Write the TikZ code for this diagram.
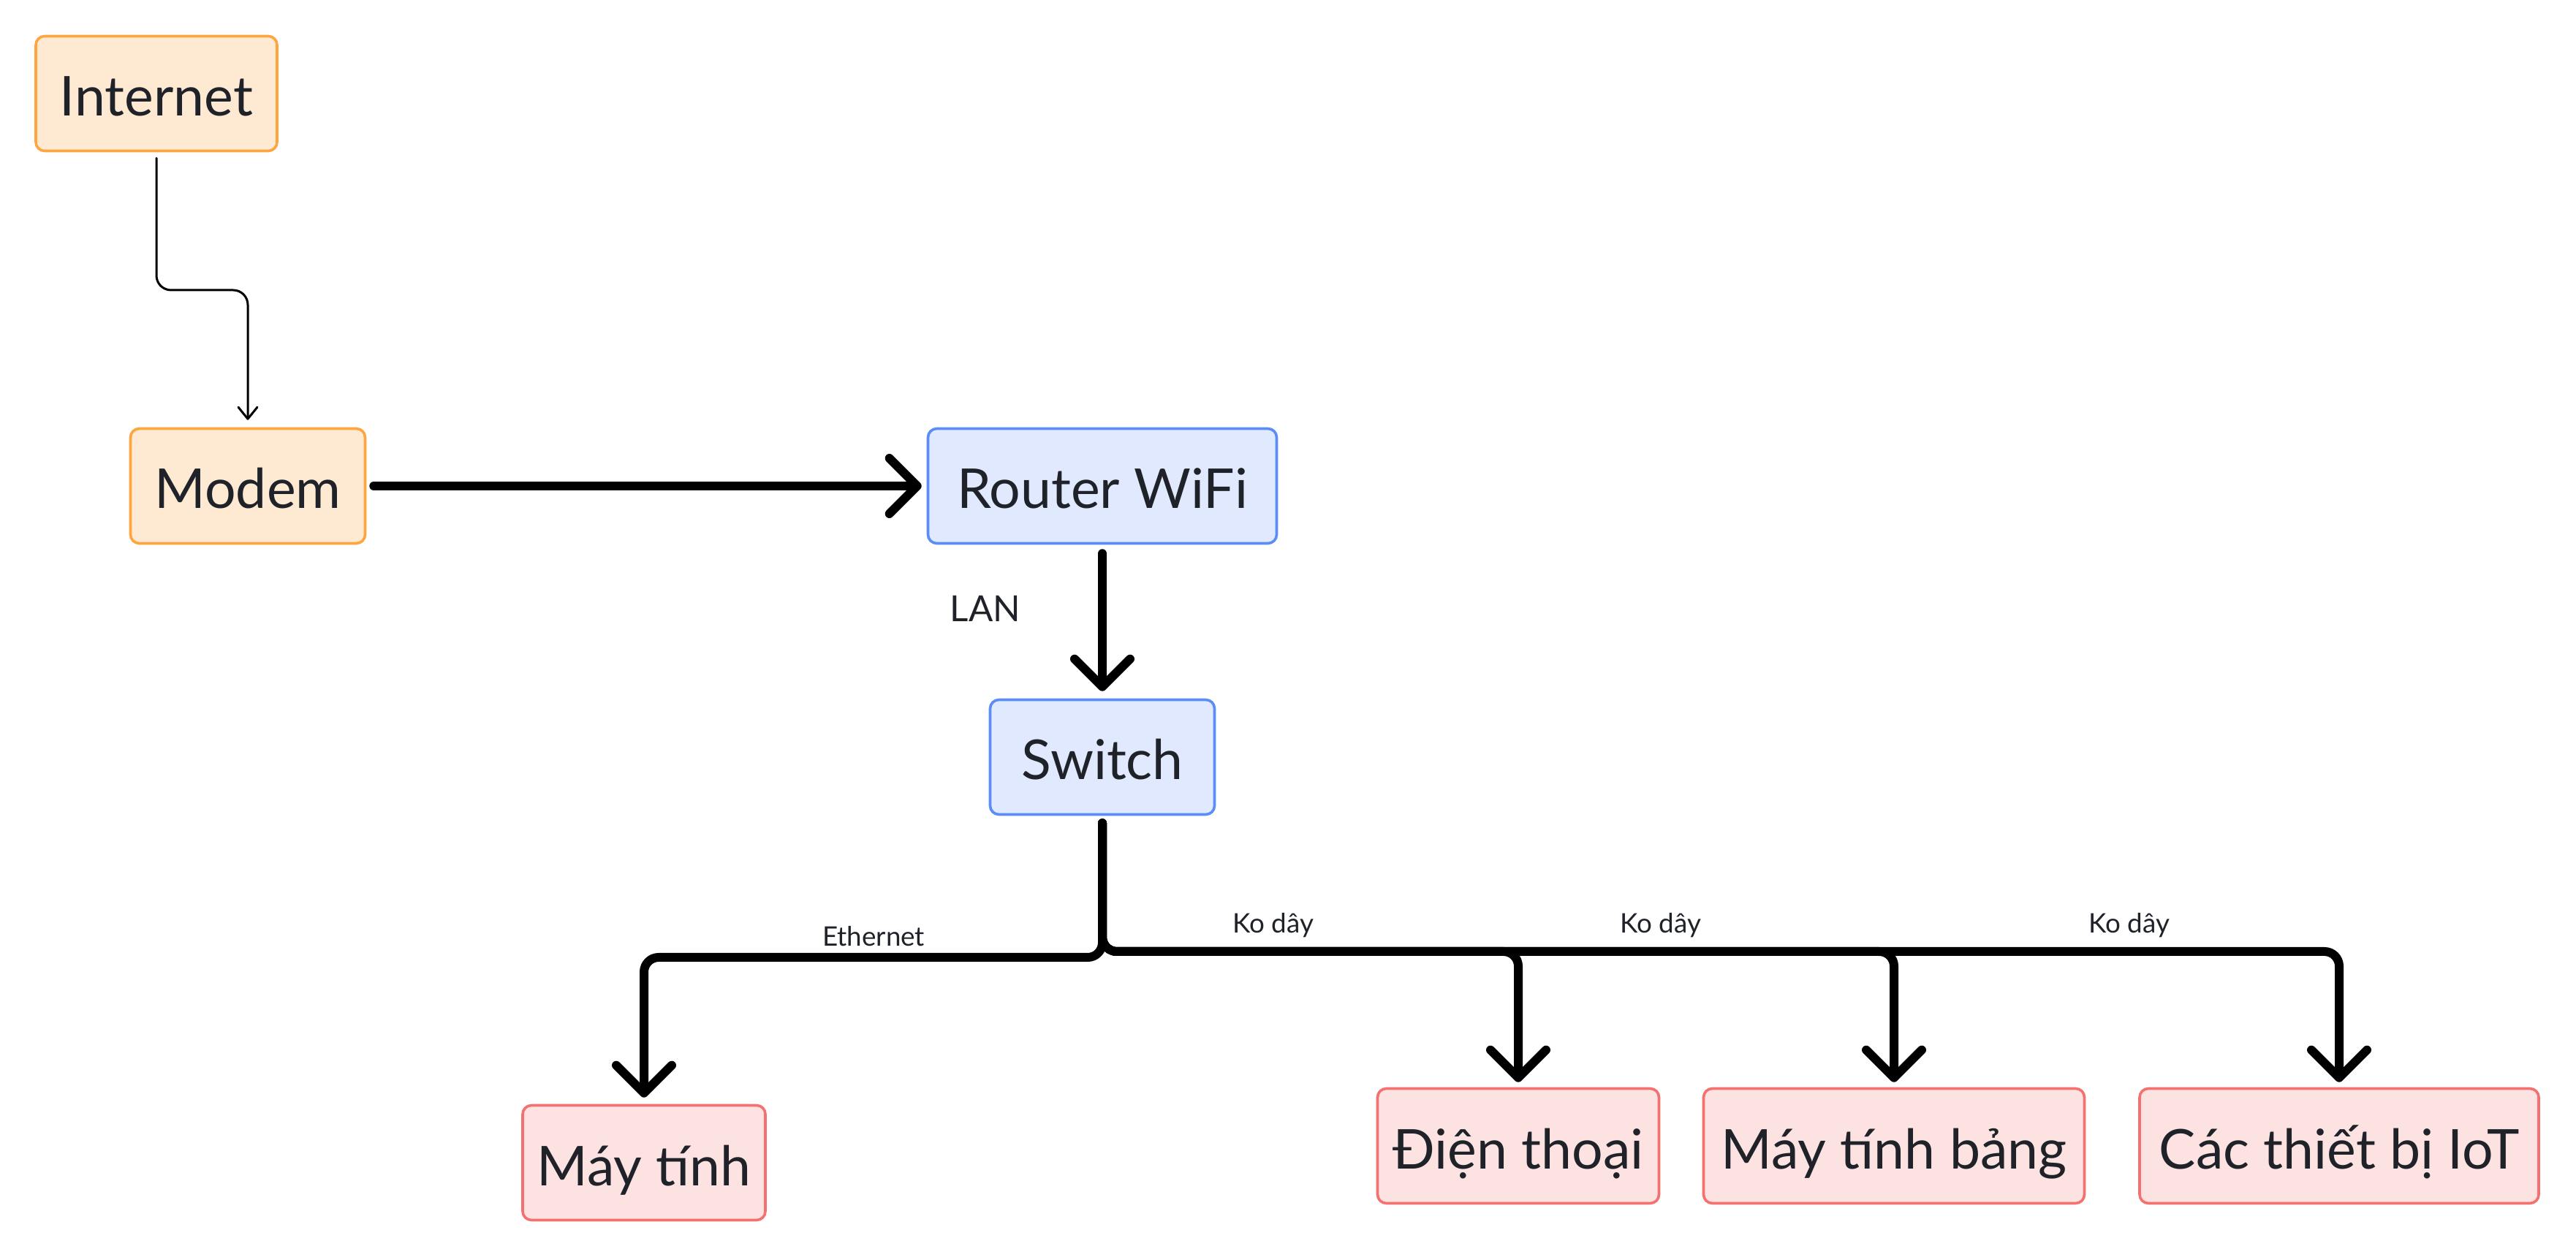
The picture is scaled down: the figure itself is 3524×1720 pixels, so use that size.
\documentclass[tikz,border=0pt]{standalone}
\usepackage{fontspec}
\setmainfont{Lato}
\usetikzlibrary{arrows.meta}
\definecolor{orfill}{HTML}{FEEAD2}
\definecolor{orline}{HTML}{FFA540}
\definecolor{blfill}{HTML}{E1E9FE}
\definecolor{blline}{HTML}{5A8DF8}
\definecolor{rdfill}{HTML}{FDE2E2}
\definecolor{rdline}{HTML}{F57171}
\definecolor{txt}{HTML}{1F2329}
\begin{document}
\begin{tikzpicture}[x=0.25pt,y=-0.25pt,
  box/.style={draw, rounded corners=3pt, line width=0.9pt, minimum height=39.25pt,
    inner sep=0pt, text height=15.5pt, text depth=0pt, text=txt,
    font=\fontsize{18.8pt}{22pt}\selectfont},
  orbox/.style={box, fill=orfill, draw=orline},
  blbox/.style={box, fill=blfill, draw=blline},
  rdbox/.style={box, fill=rdfill, draw=rdline},
  bigarrow/.style={draw=black, line width=3pt, line cap=round, line join=round,
    rounded corners=5pt, -{Straight Barb[length=9.5pt,width=19pt,round]}},
  smallarrow/.style={draw=black, line width=0.75pt, line cap=round,
    rounded corners=5pt, -{Straight Barb[length=4pt,width=6.5pt,round]}},
  lab/.style={text=txt, inner sep=0pt, font=\fontsize{9.2pt}{11pt}\selectfont},
  biglab/.style={text=txt, inner sep=0pt, font=\fontsize{12.3pt}{15pt}\selectfont}
]
\useasboundingbox[fill=white] (0,0) rectangle (3524,1720);

\node[orbox, minimum width=82.5pt] (inet) at (214,128) {Internet};
\node[orbox, minimum width=80.25pt] (modem) at (339,665) {Modem};
\node[blbox, minimum width=119.25pt] (router) at (1508,665) {Router WiFi};
\node[blbox, minimum width=76.75pt] (switch) at (1508,1036) {Switch};
\node[rdbox, minimum width=83pt] (pc) at (881,1591) {Máy tính};
\node[rdbox, minimum width=96.25pt] (phone) at (2077,1568) {Điện thoại};
\node[rdbox, minimum width=130.25pt] (tablet) at (2591,1568) {Máy tính bảng};
\node[rdbox, minimum width=136.5pt] (iot) at (3200,1568) {Các thiết bị IoT};

\coordinate (h1) at (0,397);
\coordinate (h2) at (0,1310);
\coordinate (h3) at (0,1302);

\draw[smallarrow] ([yshift=-2pt]inet.south) -- (inet.south |- h1) -- (modem.north |- h1) -- ([yshift=2.5pt]modem.north);

\draw[bigarrow] ([xshift=2.5pt]modem.east) -- ([xshift=-1.75pt]router.west);

\draw[bigarrow] ([yshift=-3pt]router.south) -- ([yshift=2.5pt]switch.north);
\node[biglab] (lan) at (1348,833) {LAN};

\draw[bigarrow] ([yshift=-2.5pt]switch.south) -- (switch.south |- h2) -- (pc.north |- h2) -- ([yshift=2.25pt]pc.north);
\draw[bigarrow] ([yshift=-2.5pt]switch.south) -- (switch.south |- h3) -- (phone.north |- h3) -- ([yshift=1.75pt]phone.north);
\draw[bigarrow] ([yshift=-2.5pt]switch.south) -- (switch.south |- h3) -- (tablet.north |- h3) -- ([yshift=1.75pt]tablet.north);
\draw[bigarrow] ([yshift=-2.5pt]switch.south) -- (switch.south |- h3) -- (iot.north |- h3) -- ([yshift=1.75pt]iot.north);

\node[lab] (leth) at (1195,1281) {Ethernet};
\node[lab] (lw1) at (1742,1266) {Ko dây};
\node[lab] (lw2) at (2272,1266) {Ko dây};
\node[lab] (lw3) at (2913,1266) {Ko dây};
\end{tikzpicture}
\end{document}
